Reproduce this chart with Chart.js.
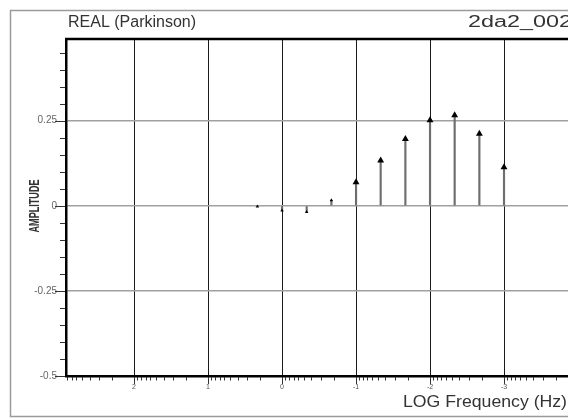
<!DOCTYPE html>
<html>
<head>
<meta charset="utf-8">
<script src="https://cdn.jsdelivr.net/npm/chart.js@4/dist/chart.umd.min.js"></script>
<style>
  html, body { margin: 0; padding: 0; background: #fff; overflow: hidden; }
  #wrap { width: 568px; height: 418px; overflow: hidden; position: relative; }
  #chart { position: absolute; left: 0; top: 0; }
</style>
</head>
<body>
<div id="wrap"><canvas id="chart" width="600" height="418"></canvas></div>
<script>
// Stem plot data: log10 frequency vs amplitude
const logFreq = [0.333, 0, -0.333, -0.667, -1, -1.333, -1.667, -2, -2.333, -2.667, -3];
const amplitude = [-0.002, -0.014, -0.018, 0.016, 0.069, 0.133, 0.196, 0.251, 0.266, 0.212, 0.113];

// Axis ticks
const xTickValues = [2, 1, 0, -1, -2, -3];
const xTickLabels = ['2', '1', '0', '-1', '-2', '-3'];
const yTickValues = [0.25, 0, -0.25, -0.5];
const yTickLabels = ['0.25', '0', '-0.25', '-0.5'];

const points = logFreq.map((x, i) => ({ x: x, y: amplitude[i] }));

// draw text squeezed/stretched to a given width
function drawFitted(ctx, text, x, y, width, align) {
    const w = ctx.measureText(text).width;
    const sx = width / w;
    ctx.save();
    ctx.translate(x, y);
    ctx.scale(sx, 1);
    ctx.textAlign = align;
    ctx.fillText(text, 0, 0);
    ctx.restore();
}

// Frame, titles and minor ticks
const decorPlugin = {
    id: 'decor',
    beforeDraw(chart) {
        const ctx = chart.ctx;
        ctx.save();
        ctx.fillStyle = '#fff';
        ctx.fillRect(0, 0, chart.width, chart.height);
        ctx.strokeStyle = '#9a9a9a';
        ctx.lineWidth = 1.5;
        ctx.strokeRect(10.5, 10.5, chart.width, 406);
        ctx.restore();
    },
    afterDraw(chart) {
        const ctx = chart.ctx;
        const area = chart.chartArea;
        const xs = chart.scales.x;
        const ys = chart.scales.y;
        ctx.save();

        // top border of the plot
        ctx.strokeStyle = '#000';
        ctx.lineWidth = 2.5;
        ctx.beginPath();
        ctx.moveTo(area.left - 1, area.top);
        ctx.lineTo(area.right, area.top);
        ctx.stroke();

        // x ticks (log decades)
        ctx.lineWidth = 1;
        ctx.strokeStyle = '#333';
        for (let n = -5; n <= 3; n++) {
            for (let k = 1; k <= 9; k++) {
                const v = n + Math.log10(k);
                if (v < xs.min || v > xs.max) continue;
                const px = Math.round(xs.getPixelForValue(v)) + 0.5;
                const len = k === 1 ? 7 : 3.5;
                ctx.beginPath();
                ctx.moveTo(px, area.bottom + 1);
                ctx.lineTo(px, area.bottom + 1 + len);
                ctx.stroke();
            }
        }

        // y ticks every 0.05
        for (let i = -10; i <= 9; i++) {
            const py = Math.round(ys.getPixelForValue(i * 0.05)) + 0.5;
            const len = i % 5 === 0 ? 10 : 5;
            ctx.beginPath();
            ctx.moveTo(area.left - 1, py);
            ctx.lineTo(area.left - 1 - len, py);
            ctx.stroke();
        }

        // titles
        ctx.fillStyle = '#333';
        ctx.textBaseline = 'middle';
        ctx.font = '16px "Liberation Sans", Arial, sans-serif';
        ctx.textAlign = 'left';
        ctx.fillText('REAL (Parkinson)', 68, 23);
        drawFitted(ctx, '2da2_002', 468, 23, 104, 'left');

        ctx.font = '16px "Liberation Sans", Arial, sans-serif';
        drawFitted(ctx, 'LOG Frequency (Hz)', 567, 403, 164, 'right');

        ctx.save();
        ctx.translate(35, 206);
        ctx.rotate(-Math.PI / 2);
        ctx.font = 'bold 14px "Liberation Sans", Arial, sans-serif';
        drawFitted(ctx, 'AMPLITUDE', 0, 0, 53, 'center');
        ctx.restore();

        ctx.restore();
    }
};

new Chart(document.getElementById('chart'), {
    type: 'bar',
    data: {
        datasets: [{
            type: 'scatter',
            data: points,
            order: 1,
            pointStyle: 'triangle',
            pointRadius: ctx => Math.abs(amplitude[ctx.dataIndex]) < 0.03 ? 2 : 4,
            backgroundColor: '#000',
            borderColor: '#000',
            borderWidth: 0
        }, {
            type: 'bar',
            data: points,
            order: 2,
            backgroundColor: '#6e6e6e',
            barThickness: 1.5
        }]
    },
    options: {
        responsive: false,
        animation: false,
        events: [],
        layout: { padding: { left: 0, top: 39, right: 22, bottom: 0 } },
        plugins: {
            legend: { display: false },
            tooltip: { enabled: false }
        },
        scales: {
            x: {
                type: 'linear',
                reverse: true,
                offset: false,
                min: -4,
                max: 2.92,
                afterBuildTicks: s => { s.ticks = xTickValues.map(v => ({ value: v })); },
                afterFit: s => { s.height = 42; },
                ticks: {
                    callback: (v) => xTickLabels[xTickValues.indexOf(v)],
                    color: '#555',
                    font: { size: 7, family: '"Liberation Sans", Arial, sans-serif' },
                    padding: 7,
                    maxRotation: 0
                },
                grid: { offset: false, color: '#1a1a1a', lineWidth: 1, drawTicks: false },
                border: { color: '#000', width: 2.5 }
            },
            y: {
                min: -0.5,
                max: 0.49,
                afterBuildTicks: s => { s.ticks = yTickValues.map(v => ({ value: v })); },
                afterFit: s => { s.width = 66; },
                ticks: {
                    callback: (v) => yTickLabels[yTickValues.indexOf(v)],
                    color: '#666',
                    font: { size: 10, family: '"Liberation Sans", Arial, sans-serif' },
                    padding: 9
                },
                grid: { color: '#a0a0a0', lineWidth: 1.5, drawTicks: false },
                border: { color: '#000', width: 2.5 }
            }
        }
    },
    plugins: [decorPlugin]
});
</script>
</body>
</html>
